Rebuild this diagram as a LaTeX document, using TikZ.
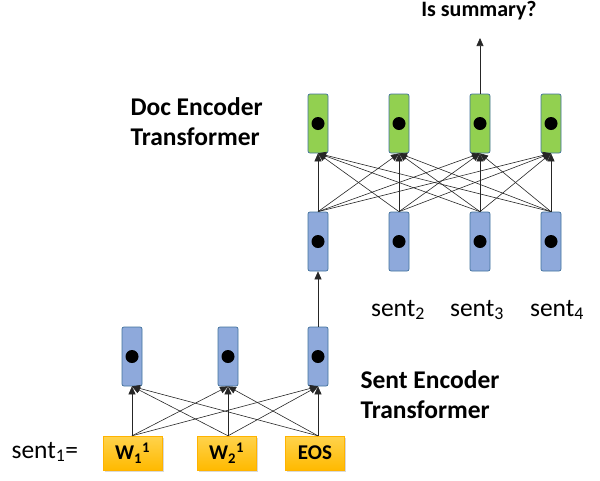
\documentclass[tikz,border=0pt]{standalone}
\usepackage{fontspec}
\setmainfont{Carlito}
\usetikzlibrary{arrows.meta,shadows}
\begin{document}
\begin{tikzpicture}[x=1pt,y=-1pt,
  vec/.style={draw=vborder, line width=0.7pt, rounded corners=2pt, minimum width=20pt, minimum height=59pt, inner sep=0pt},
  bluevec/.style={vec, fill=bvcol},
  greenvec/.style={vec, fill=gvcol},
  dotc/.style={circle, fill=black, minimum size=13pt, inner sep=0pt},
  wordbox/.style={top color=ycol!70!white, bottom color=ycol!90!orange, draw=ycol!80!orange, minimum width=59pt, minimum height=34pt, inner sep=0pt, font=\bfseries\fontsize{21}{24}\selectfont, drop shadow={shadow xshift=1.5pt, shadow yshift=-1.5pt, opacity=0.3}},
  conn/.style={-{Triangle[length=8pt,width=7pt]}, line width=0.6pt, black!85},
  lbl/.style={font=\bfseries\fontsize{25.5}{30}\selectfont, align=left},
  qlbl/.style={font=\bfseries\fontsize{22}{26}\selectfont},
  slbl/.style={font=\fontsize{25.5}{30}\selectfont}
]
\definecolor{bvcol}{HTML}{8EA9DB}
\definecolor{gvcol}{HTML}{92D050}
\definecolor{ycol}{HTML}{FFC000}
\definecolor{vborder}{HTML}{41719C}
\useasboundingbox (0,0) rectangle (600,480);

% doc encoder level
\foreach \i/\x in {1/318,2/399,3/480,4/551}{
  \node[greenvec] (g\i) at (\x,123.5) {};
  \node[dotc] at (g\i) {};
  \node[bluevec] (d\i) at (\x,241.5) {};
  \node[dotc] at (d\i) {};
}
\foreach \i in {1,...,4}{
  \foreach \j in {1,...,4}{
    \draw[conn] (d\i.north) -- (g\j.south);
  }
}
\coordinate (top) at (480,38);
\draw[conn] (g3.north) -- (top);
\node[qlbl, anchor=center] (q) at (479,11) {Is summary?};

% sentence encoder level
\foreach \i/\x in {1/132,2/228,3/318}{
  \node[bluevec] (s\i) at (\x,356.5) {};
  \node[dotc] at (s\i) {};
}
\node[wordbox] (w1) at (132.5,453) {W$_{\mathbf{1}}$$^{\mathbf{1}}$};
\node[wordbox] (w2) at (226.5,453) {W$_{\mathbf{2}}$$^{\mathbf{1}}$};
\node[wordbox] (w3) at (315,453) {EOS};
\foreach \i in {1,2,3}{
  \foreach \j in {1,2,3}{
    \draw[conn] (w\i.north -| s\i) -- (s\j.south);
  }
}
\draw[conn] (s3.north) -- (d1.south);

% labels
\node[lbl, anchor=west] (doc) at (127,122) {Doc Encoder\\Transformer};
\node[lbl, anchor=west] (sent) at (357,395) {Sent Encoder\\Transformer};
\node[slbl] (t2) at (398,310) {sent$_{\mathrm{2}}$};
\node[slbl] (t3) at (477,310) {sent$_{\mathrm{3}}$};
\node[slbl] (t4) at (557,310) {sent$_{\mathrm{4}}$};
\node[slbl, anchor=west] (t1) at (8,452) {sent$_{\mathrm{1}}$=};
\end{tikzpicture}
\end{document}
